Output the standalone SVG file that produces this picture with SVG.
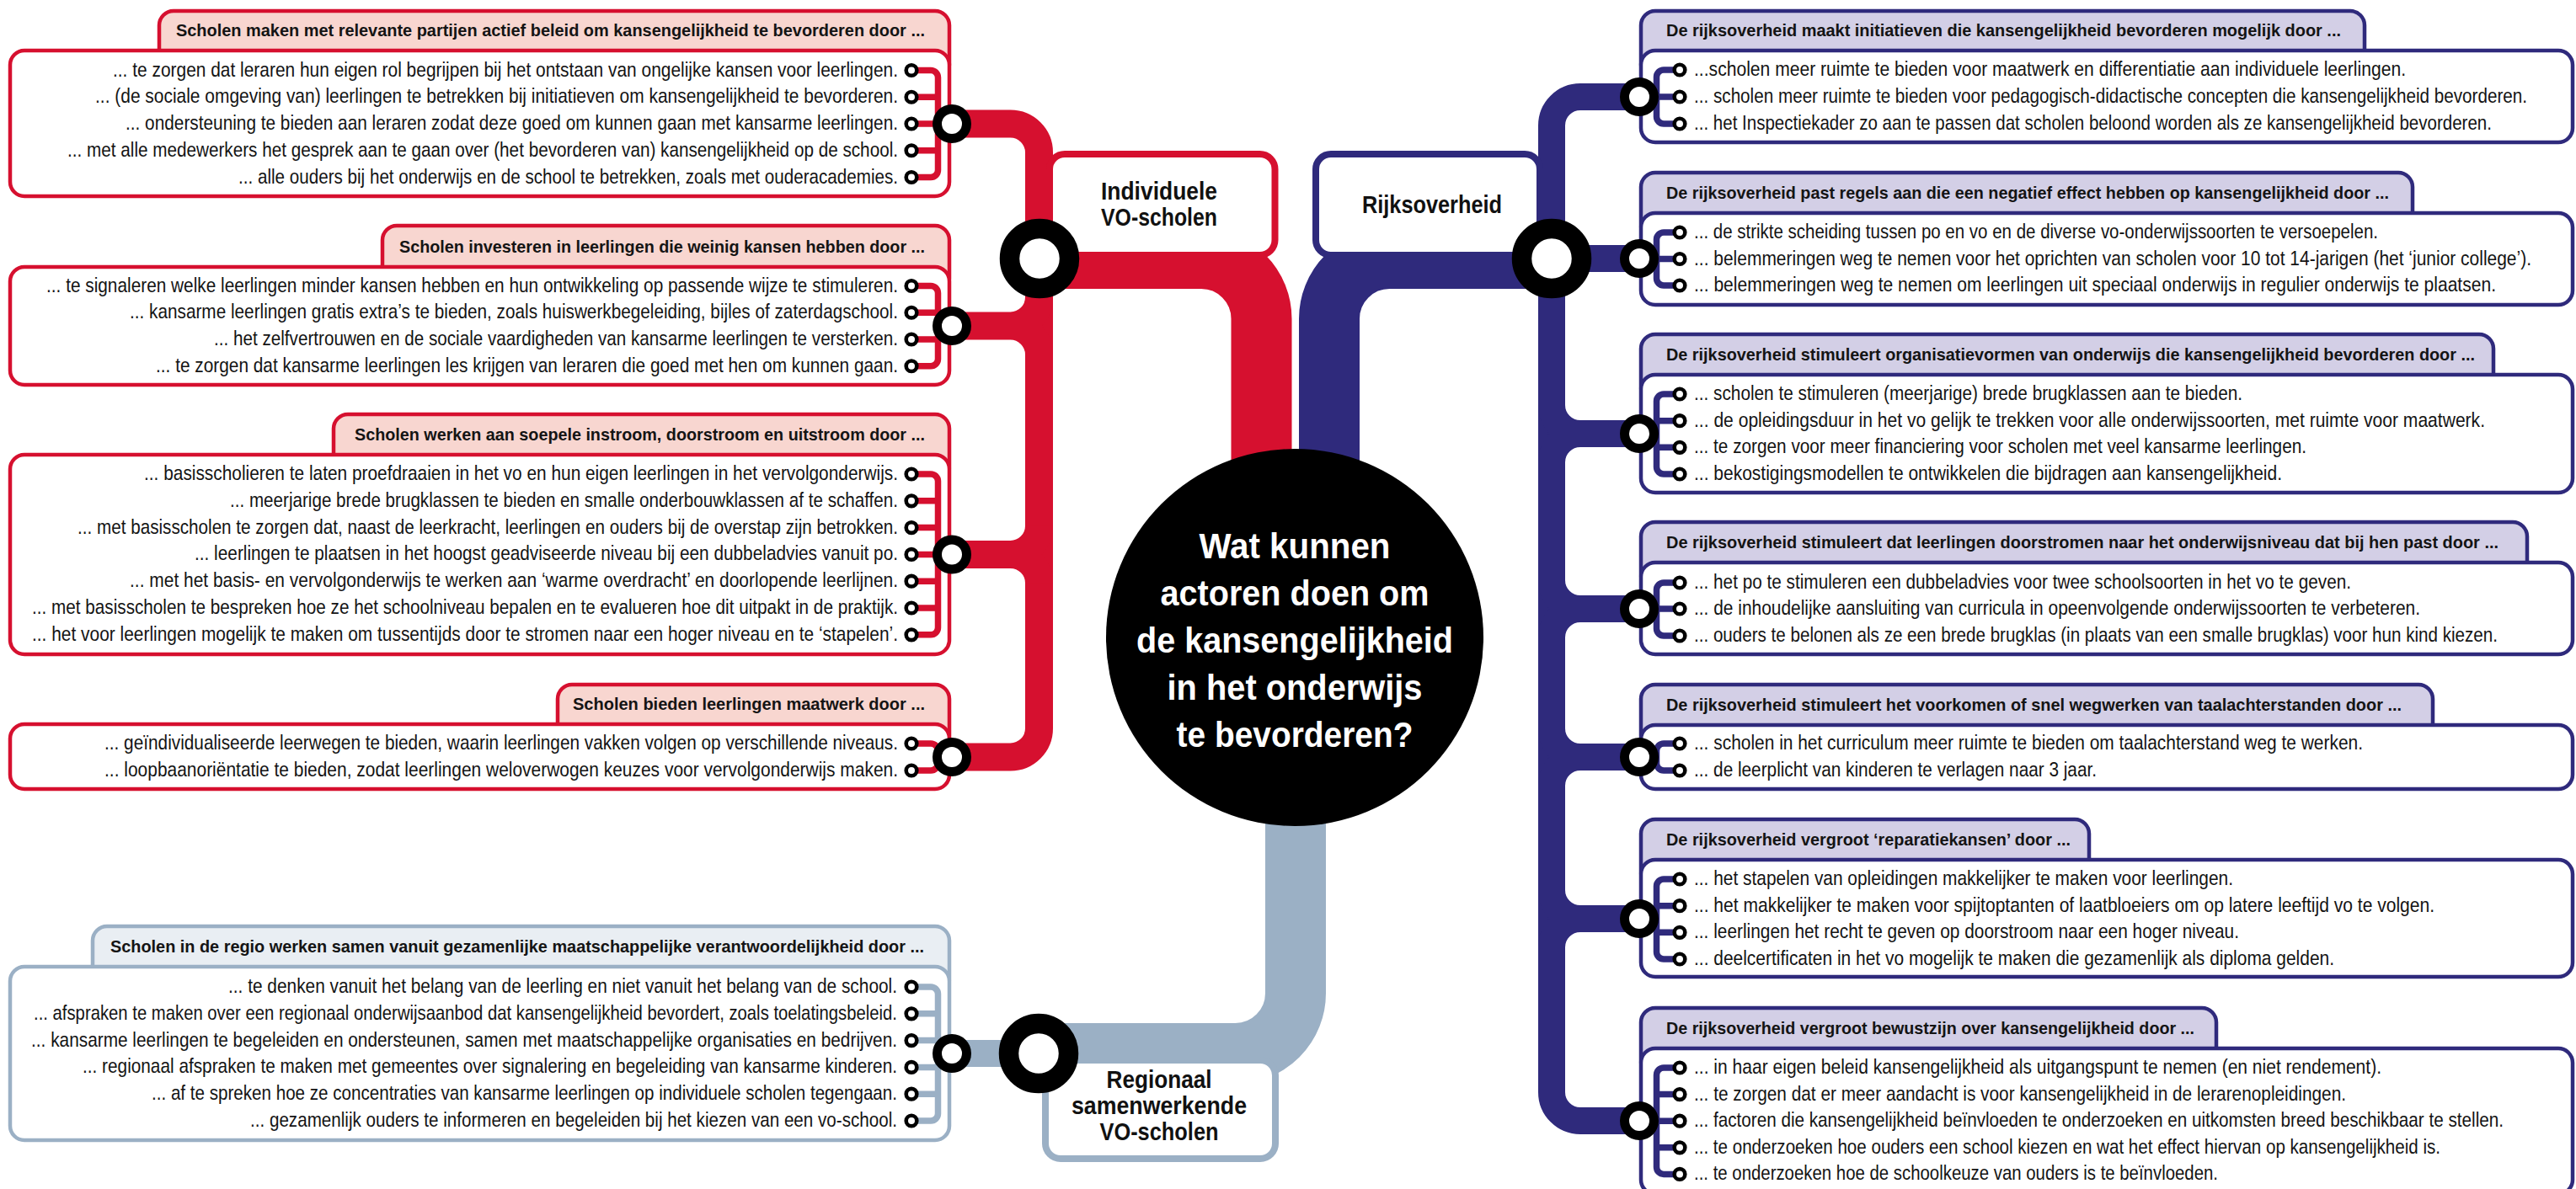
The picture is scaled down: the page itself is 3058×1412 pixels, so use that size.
<svg xmlns="http://www.w3.org/2000/svg" width="3058" height="1412" viewBox="0 0 3058 1412">
<style>
.t{font-family:"Liberation Sans Narrow","Liberation Sans",Arial,sans-serif;font-size:19.5px;fill:#141414}
.h{font-family:"Liberation Sans Narrow","Liberation Sans",Arial,sans-serif;font-size:17px;font-weight:bold;fill:#141414}
.e{text-anchor:end}
.n{font-family:"Liberation Sans Narrow","Liberation Sans",Arial,sans-serif;font-size:29px;font-weight:bold;fill:#111;text-anchor:middle}
.q{font-family:"Liberation Sans Narrow","Liberation Sans",Arial,sans-serif;font-size:43px;font-weight:bold;fill:#fff;text-anchor:middle}
.cr{fill:none;stroke:#D6102F}
.cb{fill:none;stroke:#2F2A7C}
.cg{fill:none;stroke:#9BB0C5}
.w33{stroke-width:33}
.w32{stroke-width:32}
.w72{stroke-width:72}
.w7{stroke-width:7.5}
.hr{fill:#F8D6D0;stroke:#D6102F;stroke-width:4.5}
.br{fill:#fff;stroke:#D6102F;stroke-width:4.5}
.hb{fill:#D3CFE6;stroke:#2F2A7C;stroke-width:4.5}
.bb{fill:#fff;stroke:#2F2A7C;stroke-width:4.5}
.hg{fill:#E9EEF3;stroke:#9BB0C5;stroke-width:4.5}
.bg{fill:#fff;stroke:#9BB0C5;stroke-width:4.5}
.s{fill:#fff;stroke:#000;stroke-width:4.6}
.m{fill:#fff;stroke:#000;stroke-width:11}
.g{fill:#fff;stroke:#000;stroke-width:23.5}
</style>
<defs>
<circle id="sr" r="6.3" class="s"/>
<circle id="mr" r="17.5" class="m"/>
<circle id="gr" r="35.5" class="g"/>
</defs>
<g id="connectors">
<path class="cr w72" d="M1234 307 H1426 A71.5 71.5 0 0 1 1497.5 378.5 V600"/>
<path class="cb w72" d="M1842 307 H1649.5 A71.5 71.5 0 0 0 1578 378.5 V600"/>
<path class="cg w72" d="M1538 900 V1179.5 A71.5 71.5 0 0 1 1466.5 1251 H1233"/>
<path class="cr w33" d="M1130 147 H1199.5 A34 34 0 0 1 1233.5 181 V865 A34 34 0 0 1 1199.5 899 H1130"/>
<path class="cr w33" d="M1130 387 H1199.5 A34 34 0 0 0 1233.5 353 M1130 387 H1199.5 A34 34 0 0 1 1233.5 421"/>
<path class="cr w33" d="M1130 658.4 H1199.5 A34 34 0 0 0 1233.5 624.4 M1130 658.4 H1199.5 A34 34 0 0 1 1233.5 692.4"/>
<path class="cb w32" d="M1946 115 H1876 A34 34 0 0 0 1842 149 V1297 A34 34 0 0 0 1876 1331 H1946"/>
<path class="cb w32" d="M1842 307 H1946"/>
<path class="cb w32" d="M1946 515 H1876 A34 34 0 0 1 1842 481 M1946 515 H1876 A34 34 0 0 0 1842 549"/>
<path class="cb w32" d="M1946 723 H1876 A34 34 0 0 1 1842 689 M1946 723 H1876 A34 34 0 0 0 1842 757"/>
<path class="cb w32" d="M1946 899 H1876 A34 34 0 0 1 1842 865 M1946 899 H1876 A34 34 0 0 0 1842 933"/>
<path class="cb w32" d="M1946 1091 H1876 A34 34 0 0 1 1842 1057 M1946 1091 H1876 A34 34 0 0 0 1842 1125"/>
<path class="cg w32" d="M1233 1251 H1130"/>
</g>
<g id="box-a">
<rect class="hr" x="189" y="13" width="938" height="80" rx="17"/>
<rect class="br" x="12" y="60" width="1115" height="173" rx="17"/>
<path class="cr w7" d="M1082 83.5 H1105 A8.5 8.5 0 0 1 1113.5 92 V202 A8.5 8.5 0 0 1 1105 210.5 H1082 M1082 115.25 H1113.5 M1082 147 H1113.5 M1082 178.75 H1113.5"/>
<text class="h e" transform="translate(1098 43) scale(1 1.1765)" textLength="889" lengthAdjust="spacingAndGlyphs">Scholen maken met relevante partijen actief beleid om kansengelijkheid te bevorderen door ...</text>
<text class="t e" transform="translate(1066 90.5) scale(1 1.2308)" textLength="932" lengthAdjust="spacingAndGlyphs">... te zorgen dat leraren hun eigen rol begrijpen bij het ontstaan van ongelijke kansen voor leerlingen.</text>
<text class="t e" transform="translate(1066 122.25) scale(1 1.2308)" textLength="953" lengthAdjust="spacingAndGlyphs">... (de sociale omgeving van) leerlingen te betrekken bij initiatieven om kansengelijkheid te bevorderen.</text>
<text class="t e" transform="translate(1066 154) scale(1 1.2308)" textLength="917" lengthAdjust="spacingAndGlyphs">... ondersteuning te bieden aan leraren zodat deze goed om kunnen gaan met kansarme leerlingen.</text>
<text class="t e" transform="translate(1066 185.75) scale(1 1.2308)" textLength="986" lengthAdjust="spacingAndGlyphs">... met alle medewerkers het gesprek aan te gaan over (het bevorderen van) kansengelijkheid op de school.</text>
<text class="t e" transform="translate(1066 217.5) scale(1 1.2308)" textLength="783" lengthAdjust="spacingAndGlyphs">... alle ouders bij het onderwijs en de school te betrekken, zoals met ouderacademies.</text>
<use href="#sr" x="1082" y="83.5"/><use href="#sr" x="1082" y="115.25"/><use href="#sr" x="1082" y="147"/><use href="#sr" x="1082" y="178.75"/><use href="#sr" x="1082" y="210.5"/>
<use href="#mr" x="1130" y="147"/>
</g>
<g id="box-b">
<rect class="hr" x="454" y="268" width="673" height="80" rx="17"/>
<rect class="br" x="12" y="317" width="1115" height="140" rx="17"/>
<path class="cr w7" d="M1082 339.5 H1105 A8.5 8.5 0 0 1 1113.5 348 V426.25 A8.5 8.5 0 0 1 1105 434.75 H1082 M1082 371.25 H1113.5 M1082 403 H1113.5"/>
<text class="h e" transform="translate(1098 300) scale(1 1.1765)" textLength="624" lengthAdjust="spacingAndGlyphs">Scholen investeren in leerlingen die weinig kansen hebben door ...</text>
<text class="t e" transform="translate(1066 346.5) scale(1 1.2308)" textLength="1011" lengthAdjust="spacingAndGlyphs">... te signaleren welke leerlingen minder kansen hebben en hun ontwikkeling op passende wijze te stimuleren.</text>
<text class="t e" transform="translate(1066 378.25) scale(1 1.2308)" textLength="912" lengthAdjust="spacingAndGlyphs">... kansarme leerlingen gratis extra’s te bieden, zoals huiswerkbegeleiding, bijles of zaterdagschool.</text>
<text class="t e" transform="translate(1066 410) scale(1 1.2308)" textLength="812" lengthAdjust="spacingAndGlyphs">... het zelfvertrouwen en de sociale vaardigheden van kansarme leerlingen te versterken.</text>
<text class="t e" transform="translate(1066 441.75) scale(1 1.2308)" textLength="881" lengthAdjust="spacingAndGlyphs">... te zorgen dat kansarme leerlingen les krijgen van leraren die goed met hen om kunnen gaan.</text>
<use href="#sr" x="1082" y="339.5"/><use href="#sr" x="1082" y="371.25"/><use href="#sr" x="1082" y="403"/><use href="#sr" x="1082" y="434.75"/>
<use href="#mr" x="1130" y="387"/>
</g>
<g id="box-c">
<rect class="hr" x="396" y="492" width="731" height="80" rx="17"/>
<rect class="br" x="12" y="540" width="1115" height="237" rx="17"/>
<path class="cr w7" d="M1082 563 H1105 A8.5 8.5 0 0 1 1113.5 571.5 V745.3 A8.5 8.5 0 0 1 1105 753.8 H1082 M1082 594.8 H1113.5 M1082 626.6 H1113.5 M1082 658.4 H1113.5 M1082 690.2 H1113.5 M1082 722 H1113.5"/>
<text class="h e" transform="translate(1098 523) scale(1 1.1765)" textLength="677" lengthAdjust="spacingAndGlyphs">Scholen werken aan soepele instroom, doorstroom en uitstroom door ...</text>
<text class="t e" transform="translate(1066 570) scale(1 1.2308)" textLength="895" lengthAdjust="spacingAndGlyphs">... basisscholieren te laten proefdraaien in het vo en hun eigen leerlingen in het vervolgonderwijs.</text>
<text class="t e" transform="translate(1066 601.8) scale(1 1.2308)" textLength="793" lengthAdjust="spacingAndGlyphs">... meerjarige brede brugklassen te bieden en smalle onderbouwklassen af te schaffen.</text>
<text class="t e" transform="translate(1066 633.6) scale(1 1.2308)" textLength="974" lengthAdjust="spacingAndGlyphs">... met basisscholen te zorgen dat, naast de leerkracht, leerlingen en ouders bij de overstap zijn betrokken.</text>
<text class="t e" transform="translate(1066 665.4) scale(1 1.2308)" textLength="835" lengthAdjust="spacingAndGlyphs">... leerlingen te plaatsen in het hoogst geadviseerde niveau bij een dubbeladvies vanuit po.</text>
<text class="t e" transform="translate(1066 697.2) scale(1 1.2308)" textLength="912" lengthAdjust="spacingAndGlyphs">... met het basis- en vervolgonderwijs te werken aan ‘warme overdracht’ en doorlopende leerlijnen.</text>
<text class="t e" transform="translate(1066 729) scale(1 1.2308)" textLength="1028" lengthAdjust="spacingAndGlyphs">... met basisscholen te bespreken hoe ze het schoolniveau bepalen en te evalueren hoe dit uitpakt in de praktijk.</text>
<text class="t e" transform="translate(1066 760.8) scale(1 1.2308)" textLength="1028" lengthAdjust="spacingAndGlyphs">... het voor leerlingen mogelijk te maken om tussentijds door te stromen naar een hoger niveau en te ‘stapelen’.</text>
<use href="#sr" x="1082" y="563"/><use href="#sr" x="1082" y="594.8"/><use href="#sr" x="1082" y="626.6"/><use href="#sr" x="1082" y="658.4"/><use href="#sr" x="1082" y="690.2"/><use href="#sr" x="1082" y="722"/><use href="#sr" x="1082" y="753.8"/>
<use href="#mr" x="1130" y="658.4"/>
</g>
<g id="box-d">
<rect class="hr" x="662" y="813" width="465" height="80" rx="17"/>
<rect class="br" x="12" y="860" width="1115" height="77" rx="17"/>
<path class="cr w7" d="M1082 883 H1105 A8.5 8.5 0 0 1 1113.5 891.5 V906.5 A8.5 8.5 0 0 1 1105 915 H1082"/>
<text class="h e" transform="translate(1098 843) scale(1 1.1765)" textLength="418" lengthAdjust="spacingAndGlyphs">Scholen bieden leerlingen maatwerk door ...</text>
<text class="t e" transform="translate(1066 890) scale(1 1.2308)" textLength="942" lengthAdjust="spacingAndGlyphs">... geïndividualiseerde leerwegen te bieden, waarin leerlingen vakken volgen op verschillende niveaus.</text>
<text class="t e" transform="translate(1066 922) scale(1 1.2308)" textLength="942" lengthAdjust="spacingAndGlyphs">... loopbaanoriëntatie te bieden, zodat leerlingen weloverwogen keuzes voor vervolgonderwijs maken.</text>
<use href="#sr" x="1082" y="883"/><use href="#sr" x="1082" y="915"/>
<use href="#mr" x="1130" y="899"/>
</g>
<g id="box-regio">
<rect class="hg" x="110" y="1100" width="1017" height="80" rx="17"/>
<rect class="bg" x="12" y="1148" width="1115" height="206" rx="17"/>
<path class="cg w7" d="M1082 1172 H1105 A8.5 8.5 0 0 1 1113.5 1180.5 V1322.5 A8.5 8.5 0 0 1 1105 1331 H1082 M1082 1203.8 H1113.5 M1082 1235.6 H1113.5 M1082 1267.4 H1113.5 M1082 1299.2 H1113.5"/>
<text class="h e" transform="translate(1097 1131) scale(1 1.1765)" textLength="966" lengthAdjust="spacingAndGlyphs">Scholen in de regio werken samen vanuit gezamenlijke maatschappelijke verantwoordelijkheid door ...</text>
<text class="t e" transform="translate(1065 1179) scale(1 1.2308)" textLength="794" lengthAdjust="spacingAndGlyphs">... te denken vanuit het belang van de leerling en niet vanuit het belang van de school.</text>
<text class="t e" transform="translate(1065 1210.8) scale(1 1.2308)" textLength="1025" lengthAdjust="spacingAndGlyphs">... afspraken te maken over een regionaal onderwijsaanbod dat kansengelijkheid bevordert, zoals toelatingsbeleid.</text>
<text class="t e" transform="translate(1065 1242.6) scale(1 1.2308)" textLength="1028" lengthAdjust="spacingAndGlyphs">... kansarme leerlingen te begeleiden en ondersteunen, samen met maatschappelijke organisaties en bedrijven.</text>
<text class="t e" transform="translate(1065 1274.4) scale(1 1.2308)" textLength="967" lengthAdjust="spacingAndGlyphs">... regionaal afspraken te maken met gemeentes over signalering en begeleiding van kansarme kinderen.</text>
<text class="t e" transform="translate(1065 1306.2) scale(1 1.2308)" textLength="885" lengthAdjust="spacingAndGlyphs">... af te spreken hoe ze concentraties van kansarme leerlingen op individuele scholen tegengaan.</text>
<text class="t e" transform="translate(1065 1338) scale(1 1.2308)" textLength="768" lengthAdjust="spacingAndGlyphs">... gezamenlijk ouders te informeren en begeleiden bij het kiezen van een vo-school.</text>
<use href="#sr" x="1082" y="1172"/><use href="#sr" x="1082" y="1203.8"/><use href="#sr" x="1082" y="1235.6"/><use href="#sr" x="1082" y="1267.4"/><use href="#sr" x="1082" y="1299.2"/><use href="#sr" x="1082" y="1331"/>
<use href="#mr" x="1130" y="1251"/>
</g>
<g id="rijk-1">
<rect class="hb" x="1948" y="13" width="859" height="80" rx="17"/>
<rect class="bb" x="1948" y="60" width="1106" height="109" rx="17"/>
<path class="cb w7" d="M1994 83 H1975 A8.5 8.5 0 0 0 1966.5 91.5 V138.5 A8.5 8.5 0 0 0 1975 147 H1994 M1966.5 115 H1994"/>
<text class="h" transform="translate(1978 43) scale(1 1.1765)" textLength="801" lengthAdjust="spacingAndGlyphs">De rijksoverheid maakt initiatieven die kansengelijkheid bevorderen mogelijk door ...</text>
<text class="t" transform="translate(2011 90) scale(1 1.2308)" textLength="845" lengthAdjust="spacingAndGlyphs">...scholen meer ruimte te bieden voor maatwerk en differentiatie aan individuele leerlingen.</text>
<text class="t" transform="translate(2011 122) scale(1 1.2308)" textLength="989" lengthAdjust="spacingAndGlyphs">... scholen meer ruimte te bieden voor pedagogisch-didactische concepten die kansengelijkheid bevorderen.</text>
<text class="t" transform="translate(2011 154) scale(1 1.2308)" textLength="947" lengthAdjust="spacingAndGlyphs">... het Inspectiekader zo aan te passen dat scholen beloond worden als ze kansengelijkheid bevorderen.</text>
<use href="#sr" x="1994" y="83"/><use href="#sr" x="1994" y="115"/><use href="#sr" x="1994" y="147"/>
<use href="#mr" x="1946" y="115"/>
</g>
<g id="rijk-2">
<rect class="hb" x="1948" y="205" width="916" height="80" rx="17"/>
<rect class="bb" x="1948" y="253" width="1106" height="109" rx="17"/>
<path class="cb w7" d="M1994 276 H1975 A8.5 8.5 0 0 0 1966.5 284.5 V330.5 A8.5 8.5 0 0 0 1975 339 H1994 M1966.5 307.5 H1994"/>
<text class="h" transform="translate(1978 236) scale(1 1.1765)" textLength="858" lengthAdjust="spacingAndGlyphs">De rijksoverheid past regels aan die een negatief effect hebben op kansengelijkheid door ...</text>
<text class="t" transform="translate(2011 283) scale(1 1.2308)" textLength="812" lengthAdjust="spacingAndGlyphs">... de strikte scheiding tussen po en vo en de diverse vo-onderwijssoorten te versoepelen.</text>
<text class="t" transform="translate(2011 314.5) scale(1 1.2308)" textLength="994" lengthAdjust="spacingAndGlyphs">... belemmeringen weg te nemen voor het oprichten van scholen voor 10 tot 14-jarigen (het ‘junior college’).</text>
<text class="t" transform="translate(2011 346) scale(1 1.2308)" textLength="952" lengthAdjust="spacingAndGlyphs">... belemmeringen weg te nemen om leerlingen uit speciaal onderwijs in regulier onderwijs te plaatsen.</text>
<use href="#sr" x="1994" y="276"/><use href="#sr" x="1994" y="307.5"/><use href="#sr" x="1994" y="339"/>
<use href="#mr" x="1946" y="307"/>
</g>
<g id="rijk-3">
<rect class="hb" x="1948" y="397" width="1012" height="80" rx="17"/>
<rect class="bb" x="1948" y="445" width="1106" height="140" rx="17"/>
<path class="cb w7" d="M1994 468 H1975 A8.5 8.5 0 0 0 1966.5 476.5 V554.5 A8.5 8.5 0 0 0 1975 563 H1994 M1966.5 499.7 H1994 M1966.5 531.3 H1994"/>
<text class="h" transform="translate(1978 428) scale(1 1.1765)" textLength="960" lengthAdjust="spacingAndGlyphs">De rijksoverheid stimuleert organisatievormen van onderwijs die kansengelijkheid bevorderen door ...</text>
<text class="t" transform="translate(2011 475) scale(1 1.2308)" textLength="651" lengthAdjust="spacingAndGlyphs">... scholen te stimuleren (meerjarige) brede brugklassen aan te bieden.</text>
<text class="t" transform="translate(2011 506.7) scale(1 1.2308)" textLength="939" lengthAdjust="spacingAndGlyphs">... de opleidingsduur in het vo gelijk te trekken voor alle onderwijssoorten, met ruimte voor maatwerk.</text>
<text class="t" transform="translate(2011 538.3) scale(1 1.2308)" textLength="727" lengthAdjust="spacingAndGlyphs">... te zorgen voor meer financiering voor scholen met veel kansarme leerlingen.</text>
<text class="t" transform="translate(2011 570) scale(1 1.2308)" textLength="698" lengthAdjust="spacingAndGlyphs">... bekostigingsmodellen te ontwikkelen die bijdragen aan kansengelijkheid.</text>
<use href="#sr" x="1994" y="468"/><use href="#sr" x="1994" y="499.7"/><use href="#sr" x="1994" y="531.3"/><use href="#sr" x="1994" y="563"/>
<use href="#mr" x="1946" y="515"/>
</g>
<g id="rijk-4">
<rect class="hb" x="1948" y="620" width="1052" height="80" rx="17"/>
<rect class="bb" x="1948" y="668" width="1106" height="109" rx="17"/>
<path class="cb w7" d="M1994 692 H1975 A8.5 8.5 0 0 0 1966.5 700.5 V746.5 A8.5 8.5 0 0 0 1975 755 H1994 M1966.5 723 H1994"/>
<text class="h" transform="translate(1978 651) scale(1 1.1765)" textLength="988" lengthAdjust="spacingAndGlyphs">De rijksoverheid stimuleert dat leerlingen doorstromen naar het onderwijsniveau dat bij hen past door ...</text>
<text class="t" transform="translate(2011 699) scale(1 1.2308)" textLength="780" lengthAdjust="spacingAndGlyphs">... het po te stimuleren een dubbeladvies voor twee schoolsoorten in het vo te geven.</text>
<text class="t" transform="translate(2011 730) scale(1 1.2308)" textLength="862" lengthAdjust="spacingAndGlyphs">... de inhoudelijke aansluiting van curricula in opeenvolgende onderwijssoorten te verbeteren.</text>
<text class="t" transform="translate(2011 762) scale(1 1.2308)" textLength="954" lengthAdjust="spacingAndGlyphs">... ouders te belonen als ze een brede brugklas (in plaats van een smalle brugklas) voor hun kind kiezen.</text>
<use href="#sr" x="1994" y="692"/><use href="#sr" x="1994" y="723"/><use href="#sr" x="1994" y="755"/>
<use href="#mr" x="1946" y="723"/>
</g>
<g id="rijk-5">
<rect class="hb" x="1948" y="813" width="940" height="80" rx="17"/>
<rect class="bb" x="1948" y="861" width="1106" height="76" rx="17"/>
<path class="cb w7" d="M1994 883 H1975 A8.5 8.5 0 0 0 1966.5 891.5 V906.5 A8.5 8.5 0 0 0 1975 915 H1994"/>
<text class="h" transform="translate(1978 844) scale(1 1.1765)" textLength="873" lengthAdjust="spacingAndGlyphs">De rijksoverheid stimuleert het voorkomen of snel wegwerken van taalachterstanden door ...</text>
<text class="t" transform="translate(2011 890) scale(1 1.2308)" textLength="794" lengthAdjust="spacingAndGlyphs">... scholen in het curriculum meer ruimte te bieden om taalachterstand weg te werken.</text>
<text class="t" transform="translate(2011 922) scale(1 1.2308)" textLength="478" lengthAdjust="spacingAndGlyphs">... de leerplicht van kinderen te verlagen naar 3 jaar.</text>
<use href="#sr" x="1994" y="883"/><use href="#sr" x="1994" y="915"/>
<use href="#mr" x="1946" y="899"/>
</g>
<g id="rijk-6">
<rect class="hb" x="1948" y="973" width="532" height="80" rx="17"/>
<rect class="bb" x="1948" y="1021" width="1106" height="139" rx="17"/>
<path class="cb w7" d="M1994 1044 H1975 A8.5 8.5 0 0 0 1966.5 1052.5 V1130.5 A8.5 8.5 0 0 0 1975 1139 H1994 M1966.5 1075.7 H1994 M1966.5 1107.3 H1994"/>
<text class="h" transform="translate(1978 1004) scale(1 1.1765)" textLength="480" lengthAdjust="spacingAndGlyphs">De rijksoverheid vergroot ‘reparatiekansen’ door ...</text>
<text class="t" transform="translate(2011 1051) scale(1 1.2308)" textLength="640" lengthAdjust="spacingAndGlyphs">... het stapelen van opleidingen makkelijker te maken voor leerlingen.</text>
<text class="t" transform="translate(2011 1082.7) scale(1 1.2308)" textLength="879" lengthAdjust="spacingAndGlyphs">... het makkelijker te maken voor spijtoptanten of laatbloeiers om op latere leeftijd vo te volgen.</text>
<text class="t" transform="translate(2011 1114.3) scale(1 1.2308)" textLength="647" lengthAdjust="spacingAndGlyphs">... leerlingen het recht te geven op doorstroom naar een hoger niveau.</text>
<text class="t" transform="translate(2011 1146) scale(1 1.2308)" textLength="760" lengthAdjust="spacingAndGlyphs">... deelcertificaten in het vo mogelijk te maken die gezamenlijk als diploma gelden.</text>
<use href="#sr" x="1994" y="1044"/><use href="#sr" x="1994" y="1075.7"/><use href="#sr" x="1994" y="1107.3"/><use href="#sr" x="1994" y="1139"/>
<use href="#mr" x="1946" y="1091"/>
</g>
<g id="rijk-7">
<rect class="hb" x="1948" y="1197" width="683" height="80" rx="17"/>
<rect class="bb" x="1948" y="1245" width="1106" height="173" rx="17"/>
<path class="cb w7" d="M1994 1268 H1975 A8.5 8.5 0 0 0 1966.5 1276.5 V1385.9 A8.5 8.5 0 0 0 1975 1394.4 H1994 M1966.5 1299.6 H1994 M1966.5 1331.2 H1994 M1966.5 1362.8 H1994"/>
<text class="h" transform="translate(1978 1228) scale(1 1.1765)" textLength="627" lengthAdjust="spacingAndGlyphs">De rijksoverheid vergroot bewustzijn over kansengelijkheid door ...</text>
<text class="t" transform="translate(2011 1275) scale(1 1.2308)" textLength="816" lengthAdjust="spacingAndGlyphs">... in haar eigen beleid kansengelijkheid als uitgangspunt te nemen (en niet rendement).</text>
<text class="t" transform="translate(2011 1306.6) scale(1 1.2308)" textLength="774" lengthAdjust="spacingAndGlyphs">... te zorgen dat er meer aandacht is voor kansengelijkheid in de lerarenopleidingen.</text>
<text class="t" transform="translate(2011 1338.2) scale(1 1.2308)" textLength="961" lengthAdjust="spacingAndGlyphs">... factoren die kansengelijkheid beïnvloeden te onderzoeken en uitkomsten breed beschikbaar te stellen.</text>
<text class="t" transform="translate(2011 1369.8) scale(1 1.2308)" textLength="886" lengthAdjust="spacingAndGlyphs">... te onderzoeken hoe ouders een school kiezen en wat het effect hiervan op kansengelijkheid is.</text>
<text class="t" transform="translate(2011 1401.4) scale(1 1.2308)" textLength="622" lengthAdjust="spacingAndGlyphs">... te onderzoeken hoe de schoolkeuze van ouders is te beïnvloeden.</text>
<use href="#sr" x="1994" y="1268"/><use href="#sr" x="1994" y="1299.6"/><use href="#sr" x="1994" y="1331.2"/><use href="#sr" x="1994" y="1362.8"/><use href="#sr" x="1994" y="1394.4"/>
<use href="#mr" x="1946" y="1331"/>
</g>
<g id="node-individuele">
<rect x="1246" y="183" width="267.5" height="120" rx="18" fill="#fff" stroke="#D6102F" stroke-width="8"/>
<text class="n" x="1376" y="237" textLength="138" lengthAdjust="spacingAndGlyphs">Individuele</text>
<text class="n" x="1376" y="268" textLength="138" lengthAdjust="spacingAndGlyphs">VO-scholen</text>
<use href="#gr" x="1234" y="307"/>
</g>
<g id="node-rijksoverheid">
<rect x="1562" y="183" width="266" height="120" rx="18" fill="#fff" stroke="#2F2A7C" stroke-width="8"/>
<text class="n" x="1700" y="253" textLength="166" lengthAdjust="spacingAndGlyphs">Rijksoverheid</text>
<use href="#gr" x="1842" y="307"/>
</g>
<g id="node-regionaal">
<rect x="1241" y="1259" width="273" height="117" rx="18" fill="#fff" stroke="#9BB0C5" stroke-width="8"/>
<text class="n" x="1376" y="1292" textLength="125" lengthAdjust="spacingAndGlyphs">Regionaal</text>
<text class="n" x="1376" y="1323" textLength="208" lengthAdjust="spacingAndGlyphs">samenwerkende</text>
<text class="n" x="1376" y="1354" textLength="141" lengthAdjust="spacingAndGlyphs">VO-scholen</text>
<use href="#gr" x="1233" y="1251"/>
</g>
<g id="node-center">
<circle cx="1537" cy="757" r="224" fill="#000"/>
<text class="q" x="1537" y="663" textLength="227" lengthAdjust="spacingAndGlyphs">Wat kunnen</text>
<text class="q" x="1537" y="719" textLength="319" lengthAdjust="spacingAndGlyphs">actoren doen om</text>
<text class="q" x="1537" y="775" textLength="376" lengthAdjust="spacingAndGlyphs">de kansengelijkheid</text>
<text class="q" x="1537" y="831" textLength="303" lengthAdjust="spacingAndGlyphs">in het onderwijs</text>
<text class="q" x="1537" y="887" textLength="281" lengthAdjust="spacingAndGlyphs">te bevorderen?</text>
</g>
</svg>
